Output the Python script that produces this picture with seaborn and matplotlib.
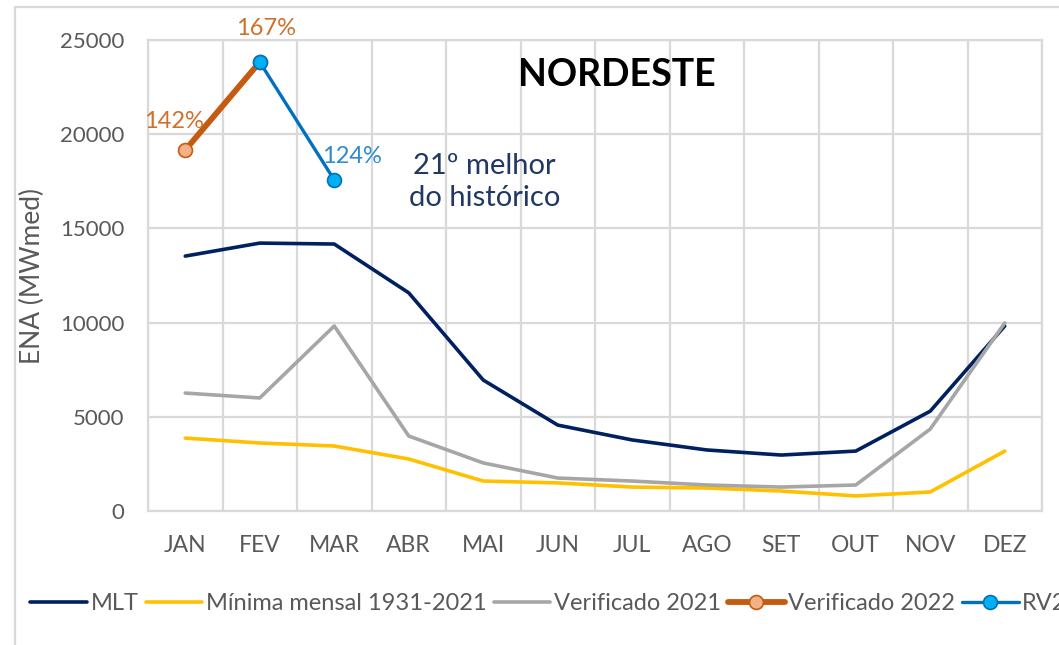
import matplotlib
matplotlib.use("Agg")
import matplotlib.pyplot as plt
from matplotlib.lines import Line2D
import seaborn as sns
import pandas as pd
import numpy as np


# Chart data
months = ["JAN", "FEV", "MAR", "ABR", "MAI", "JUN", "JUL", "AGO", "SET", "OUT", "NOV", "DEZ"]
mlt = [13530, 14220, 14170, 11580, 6950, 4560, 3770, 3240, 2970, 3180, 5300, 9820]
minima = [3870, 3610, 3450, 2760, 1590, 1490, 1270, 1220, 1060, 800, 1010, 3180]
verif_2021 = [6260, 6000, 9820, 3980, 2550, 1750, 1590, 1380, 1270, 1380, 4350, 9980]
verif_2022 = [19160, 23830] + [np.nan] * 10
rv2 = [np.nan, 23830, 17570] + [np.nan] * 9
pct_labels = {0: "142%", 1: "167%", 2: "124%"}

sns.set_style("white")
plt.rcParams["font.family"] = ["Lato", "DejaVu Sans"]

df = pd.DataFrame({
    "x": np.arange(len(months)),
    "mlt": mlt,
    "minima": minima,
    "v2021": verif_2021,
    "v2022": verif_2022,
    "rv2": rv2,
})

fig = plt.figure(figsize=(10.59, 6.45), dpi=100)
ax = fig.add_axes([148 / 1059, 1 - 511 / 645, (1042 - 148) / 1059, (511 - 40) / 645])

grid_c = "#d9d9d9"
text_c = "#595959"

# Series
sns.lineplot(data=df, x="x", y="mlt", ax=ax, color="#002060", lw=2.6, label="MLT")
sns.lineplot(data=df, x="x", y="minima", ax=ax, color="#ffc000", lw=2.6, label="Mínima mensal 1931-2021")
sns.lineplot(data=df, x="x", y="v2021", ax=ax, color="#a6a6a6", lw=2.6, label="Verificado 2021")
sns.lineplot(data=df.dropna(subset=["v2022"]), x="x", y="v2022", ax=ax, color="#c55a11", lw=4.2,
             marker="o", markersize=10, markerfacecolor="#f4b183", markeredgecolor="#c55a11",
             markeredgewidth=1.2, label="Verificado 2022", clip_on=False)
sns.lineplot(data=df.dropna(subset=["rv2"]), x="x", y="rv2", ax=ax, color="#0070c0", lw=2.4,
             marker="o", markersize=10, markerfacecolor="#00b0f0", markeredgecolor="#0070c0",
             markeredgewidth=1.2, label="RV2", clip_on=False)

# Percent labels
ax.text(0 - 0.15, verif_2022[0] + 950, pct_labels[0], color="#d0702a", fontsize=17, ha="center", va="bottom")
ax.text(1 + 0.08, verif_2022[1] + 1200, pct_labels[1], color="#d0702a", fontsize=17, ha="center", va="bottom")
ax.text(2 + 0.24, rv2[2] + 700, pct_labels[2], color="#2e8bd0", fontsize=17, ha="center", va="bottom")

# Annotations
ax.text(5.8, 23150, "NORDESTE", fontsize=27, fontweight="bold", color="black", ha="center", va="center")
ax.text(4.02, 17450, "21º melhor\ndo histórico", fontsize=21, color="#1f3864", ha="center", va="center",
        linespacing=1.3)

# Axes styling
ax.set_xlim(-0.5, len(months) - 0.5)
ax.set_ylim(0, 25000)
ax.set_yticks(np.arange(0, 25001, 5000))
ax.set_xticks(np.arange(len(months)))
ax.set_xticklabels(months)
ax.set_xticks(np.arange(-0.5, len(months), 1), minor=True)
ax.grid(True, which="major", axis="y", color=grid_c, lw=1.6)
ax.grid(True, which="minor", axis="x", color=grid_c, lw=1.6)
ax.grid(False, which="major", axis="x")
ax.tick_params(axis="both", which="both", length=0, labelcolor=text_c)
ax.tick_params(axis="y", pad=17, labelsize=16)
ax.tick_params(axis="x", pad=17, labelsize=16.5)
for s in ax.spines.values():
    s.set_color(grid_c)
    s.set_linewidth(1.6)
ax.set_axisbelow(True)
ax.set_xlabel("")
ax.set_ylabel("ENA (MWmed)", fontsize=19, color=text_c)
ax.yaxis.set_label_coords(-103 / 894, 0.5)

# Legend at the bottom (last entry runs off the right edge, as in the source image)
handles, labels = ax.get_legend_handles_labels()
ax.get_legend().remove()
fig.legend(handles, labels, loc="center left", bbox_to_anchor=(21 / 1059, 1 - 604 / 645), ncol=5,
           frameon=False, fontsize=17, labelcolor=text_c, handlelength=2.4, handletextpad=0.15,
           columnspacing=0.3, borderaxespad=0)

# Chart outer border
fig.add_artist(Line2D([15 / 1059, 15 / 1059], [0, 1 - 7 / 645], color=grid_c, lw=1.6))
fig.add_artist(Line2D([15 / 1059, 1], [1 - 7 / 645, 1 - 7 / 645], color=grid_c, lw=1.6))

fig.savefig("out.png", dpi=100, facecolor="white")
